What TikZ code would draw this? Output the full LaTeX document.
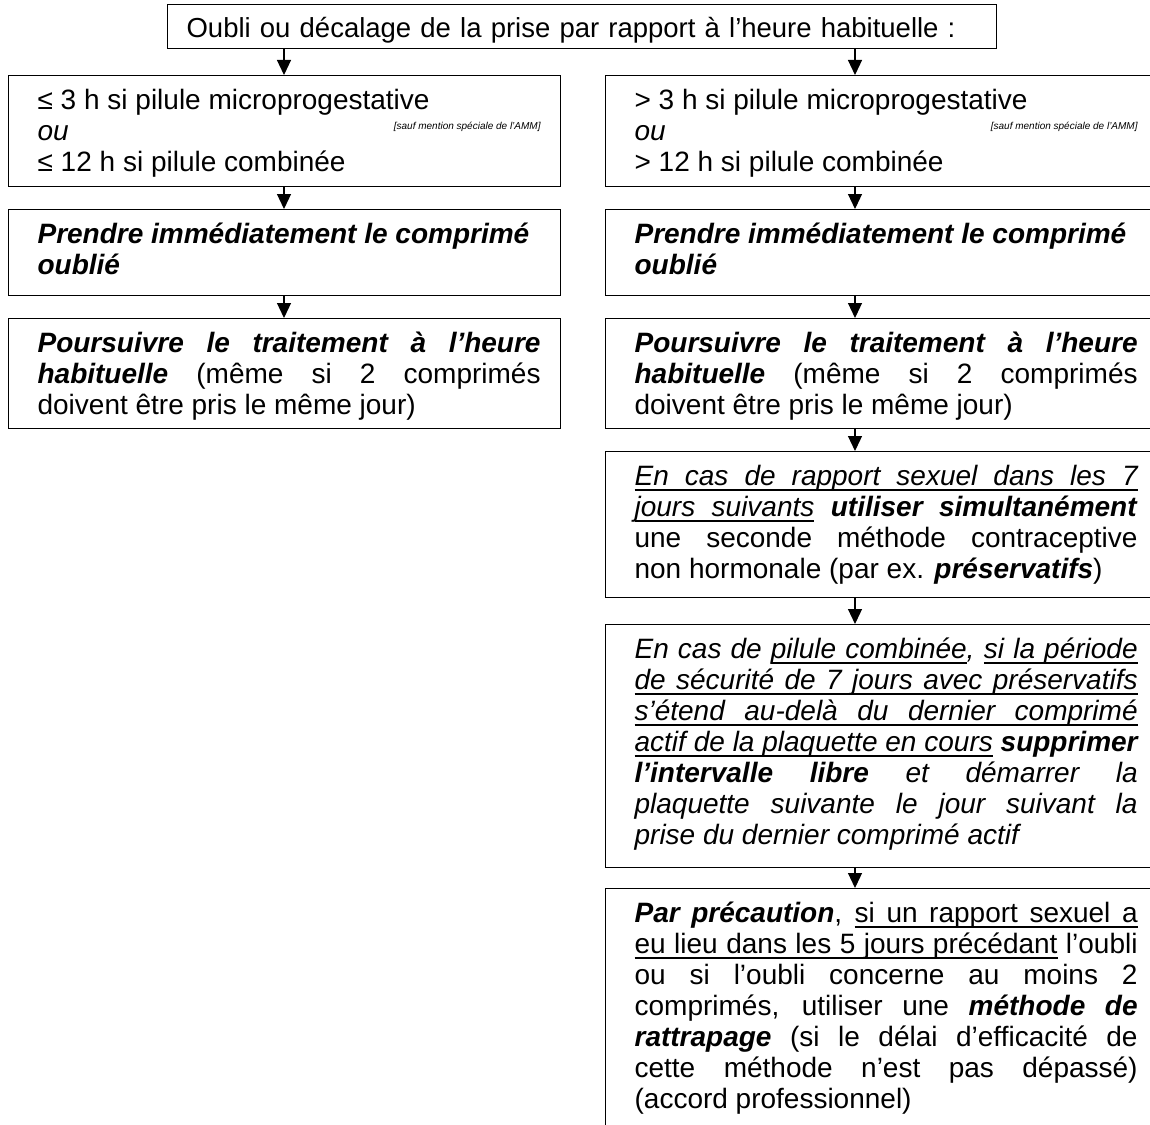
\documentclass[tikz,border=0pt]{standalone}
\usepackage{fontspec}
\setmainfont{Liberation Sans}
\usepackage{tikz}
\usetikzlibrary{positioning, arrows.meta, calc}
\hyphenpenalty=10000
\exhyphenpenalty=10000
\tolerance=10000
\newcommand\colw{512pt}
\newcommand\bi[1]{\textbf{\textit{#1}}}
\newcommand\ammnote{{\fontsize{10}{10}\selectfont\itshape [sauf mention spéciale de l’AMM]}}
% underlined words, with underlined stretchable spaces
\newcommand\ulw[1]{\setbox0\hbox{#1}\leavevmode\rlap{\vrule height -3.5pt depth 5pt width\wd0}\box0\relax}
\newcommand\uls{\leaders\vrule height -3.5pt depth 5pt\hskip\fontdimen2\font plus\fontdimen3\font minus\fontdimen4\font\relax}
\makeatletter
\def\ulline#1{\ul@next#1 \ul@end}
\def\ul@next#1 #2\ul@end{\ulw{#1}\ifx\relax#2\relax\else\uls\ul@next#2\ul@end\fi}
\makeatother
\tikzset{flowbox/.style={draw=black, line width=1.2pt, anchor=north west, text width=\colw, align=justify, inner xsep=20pt, inner ysep=0pt, text height=34pt, text depth=#1, font=\fontsize{28}{31}\selectfont, execute at begin node={\leftskip=9pt\relax}}}
\tikzset{flowarrow/.style={line width=1.2pt, -{Triangle[width=14pt,length=15pt]}}}

\begin{document}
\begin{tikzpicture}[x=1pt, y=-1pt]
\clip (0,0) rectangle (1150,1124);
\fill[white] (0,0) rectangle (1150,1124);

% head of the chart
\node[draw=black, line width=1.2pt, anchor=north west, text width=791pt, align=left, inner xsep=19pt, inner ysep=0pt, text height=33pt, text depth=11pt, font=\fontsize{27.5}{31}\selectfont] (top) at (167,4) {Oubli ou décalage de la prise par rapport à l’heure habituelle :};

% left column
\node[flowbox=77pt] (l1) at (8,75) {≤ 3 h si pilule microprogestative\\
\textit{ou}\hfill\raisebox{11pt}{\ammnote}\\
≤ 12 h si pilule combinée};
\node[flowbox=52pt] (l2) at (8,209) {\bi{Prendre immédiatement le comprimé}\\ \bi{oublié}};
\node[flowbox=76pt] (l3) at (8,318) {\bi{Poursuivre le traitement à l’heure}\linebreak
\bi{habituelle} (même si 2 comprimés\linebreak
doivent être pris le même jour)};

% right column
\node[flowbox=77pt] (r1) at (605,75) {> 3 h si pilule microprogestative\\
\textit{ou}\hfill\raisebox{11pt}{\ammnote}\\
> 12 h si pilule combinée};
\node[flowbox=52pt] (r2) at (605,209) {\bi{Prendre immédiatement le comprimé}\\ \bi{oublié}};
\node[flowbox=76pt] (r3) at (605,318) {\bi{Poursuivre le traitement à l’heure}\linebreak
\bi{habituelle} (même si 2 comprimés\linebreak
doivent être pris le même jour)};
\node[flowbox=112pt] (r4) at (605,451) {{\itshape\ulline{En cas de rapport sexuel dans les 7}}\linebreak
{\itshape\ulline{jours suivants}} \bi{utiliser simultanément}\linebreak
une seconde méthode contraceptive\linebreak
non hormonale (par ex. \bi{préservatifs})};
\node[flowbox=209pt] (r5) at (605,624) {\itshape En cas de \ulline{pilule combinée}, \ulline{si la période}\linebreak
\ulline{de sécurité de 7 jours avec préservatifs}\linebreak
\ulline{s’étend au-delà du dernier comprimé}\linebreak
\ulline{actif de la plaquette en cours} \textbf{supprimer}\linebreak
\textbf{l’intervalle libre} et démarrer la\linebreak
plaquette suivante le jour suivant la\linebreak
prise du dernier comprimé actif};
\node[flowbox=220pt] (r6) at (605,888) {\bi{Par précaution}, \ulline{si un rapport sexuel a}\linebreak
\ulline{eu lieu dans les 5 jours précédant} l’oubli\linebreak
ou si l’oubli concerne au moins 2\linebreak
comprimés, utiliser une \bi{méthode de}\linebreak
\bi{rattrapage} (si le délai d’efficacité de\linebreak
cette méthode n’est pas dépassé)\linebreak
(accord professionnel)};

% connectors
\coordinate (lx) at (284,0);
\coordinate (rx) at (855,0);
\draw[flowarrow] (top.south -| lx) -- (l1.north -| lx);
\draw[flowarrow] (top.south -| rx) -- (r1.north -| rx);
\foreach \a/\b in {l1/l2, l2/l3}
  \draw[flowarrow] (\a.south -| lx) -- (\b.north -| lx);
\foreach \a/\b in {r1/r2, r2/r3, r3/r4, r4/r5, r5/r6}
  \draw[flowarrow] (\a.south -| rx) -- (\b.north -| rx);
\end{tikzpicture}
\end{document}
